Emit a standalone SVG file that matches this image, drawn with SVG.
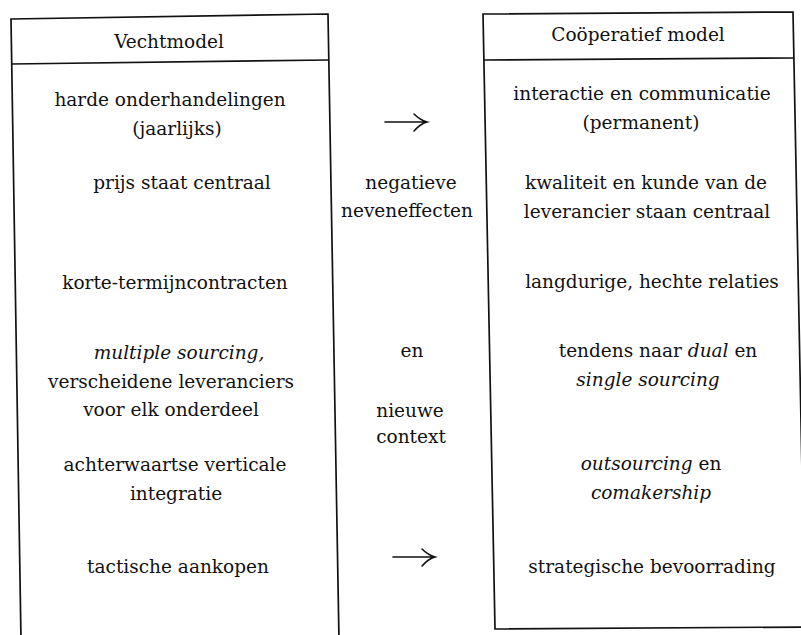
<svg xmlns="http://www.w3.org/2000/svg" width="801" height="635" viewBox="0 0 801 635">
<style>
  .t { font-family: "DejaVu Serif", "Liberation Serif", serif; font-size: 18.5px; fill: #111; text-anchor: middle; }
  .i { font-style: italic; }
  .box { fill: none; stroke: #111; stroke-width: 1.7; }
  .arr { fill: none; stroke: #111; stroke-width: 1.6; stroke-linecap: round; }
</style>
<rect width="801" height="635" fill="#fff"/>
<g id="vechtmodel">
  <path class="box" d="M21,640 L11,19 L328,14 L339,640"/>
  <path class="box" d="M11,64 L329,60"/>
  <text class="t" x="169" y="48">Vechtmodel</text>
  <text class="t" x="170" y="106">harde onderhandelingen</text>
  <text class="t" x="177" y="135">(jaarlijks)</text>
  <text class="t" x="182" y="189">prijs staat centraal</text>
  <text class="t" x="175" y="289">korte-termijncontracten</text>
  <text class="t i" x="179" y="359">multiple sourcing,</text>
  <text class="t" x="171" y="388">verscheidene leveranciers</text>
  <text class="t" x="171" y="416">voor elk onderdeel</text>
  <text class="t" x="175" y="471">achterwaartse verticale</text>
  <text class="t" x="176" y="500">integratie</text>
  <text class="t" x="178" y="573">tactische aankopen</text>
</g>
<g id="cooperatief">
  <path class="box" d="M495,629 L483,14 L793,12 L805,627 Z"/>
  <path class="box" d="M484,60 L794,58"/>
  <text class="t" x="638" y="41">Coöperatief model</text>
  <text class="t" x="642" y="100">interactie en communicatie</text>
  <text class="t" x="641" y="129">(permanent)</text>
  <text class="t" x="646" y="189">kwaliteit en kunde van de</text>
  <text class="t" x="647" y="218">leverancier staan centraal</text>
  <text class="t" x="652" y="288">langdurige, hechte relaties</text>
  <text class="t" x="658" y="357">tendens naar <tspan class="i">dual</tspan> en</text>
  <text class="t i" x="648" y="386">single sourcing</text>
  <text class="t" x="651" y="470"><tspan class="i">outsourcing</tspan> en</text>
  <text class="t i" x="651" y="499">comakership</text>
  <text class="t" x="652" y="573">strategische bevoorrading</text>
</g>
<g id="midden">
  <text class="t" x="411" y="189">negatieve</text>
  <text class="t" x="407" y="217">neveneffecten</text>
  <text class="t" x="412" y="357">en</text>
  <text class="t" x="410" y="417">nieuwe</text>
  <text class="t" x="411" y="443">context</text>
</g>
<g id="connectors">
  <path class="arr" d="M385,122 L427,122 M414,114 Q420,120 427,122 Q420,124 414,131"/>
  <path class="arr" d="M393,557 L435,557 M422,549 Q428,555 435,557 Q428,559 422,566"/>
</g>
</svg>
